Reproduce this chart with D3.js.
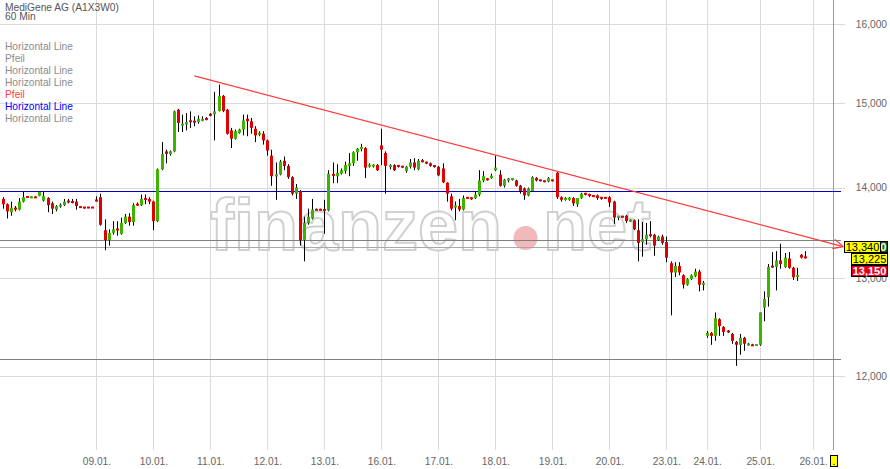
<!DOCTYPE html>
<html><head><meta charset="utf-8">
<script src="https://cdn.jsdelivr.net/npm/d3@7"></script>
<style>
html,body{margin:0;padding:0;background:#fff;}
svg{display:block;font-family:"Liberation Sans",Arial,sans-serif;}
</style></head><body>
<svg id="c" width="890" height="469"></svg>
<script>
// ---------- data ----------
const title = "MediGene AG (A1X3W0)";
const interval = "60 Min";
const legendItems = ["Horizontal Line","Pfeil","Horizontal Line","Horizontal Line","Pfeil","Horizontal Line","Horizontal Line"];
const legendKinds = ["gray","gray","gray","gray","red","blue","gray"];

const dayLabels = ["09.01.","10.01.","11.01.","12.01.","13.01.","16.01.","17.01.","18.01.","19.01.","20.01.","23.01.","24.01.","25.01.","26.01."];
const dayIndex  = [23,37,51,65,79,93,107,121,135,149,163,173,186,199];

const yTicks = [12,13,14,15,16];

const open = [
13.87,13.81,13.72,13.77,13.75,13.84,13.895,13.885,13.89,13.905,
13.85,13.88,13.82,13.75,13.79,13.80,13.845,13.84,13.84,13.78,
13.775,13.775,13.775,13.855,13.89,13.52,13.41,13.49,13.53,13.48,
13.60,13.67,13.61,13.81,13.80,13.875,13.87,13.84,13.62,14.21,
14.42,14.39,14.42,14.92,14.73,14.74,14.785,14.78,14.77,14.785,
14.81,14.86,14.865,14.905,15.09,14.92,14.67,14.57,14.64,14.68,
14.81,14.78,14.69,14.625,14.63,14.55,14.37,14.13,14.15,14.31,
14.25,14.12,13.93,13.96,13.41,13.60,13.65,13.75,13.75,13.75,
13.74,14.15,14.13,14.16,14.19,14.25,14.28,14.41,14.455,14.46,
14.25,14.25,14.26,14.49,14.40,14.24,14.26,14.255,14.245,14.19,
14.24,14.29,14.21,14.31,14.29,14.28,14.25,14.24,14.22,14.055,
13.90,13.78,13.79,13.75,13.885,13.88,13.88,13.92,14.08,14.10,
14.11,14.20,14.15,14.02,14.09,14.095,14.08,14.02,13.99,13.91,
13.96,14.11,14.085,14.075,14.07,14.085,14.17,13.89,13.86,13.86,
13.88,13.81,13.88,13.93,13.92,13.905,13.91,13.885,13.885,13.89,
13.84,13.66,13.675,13.68,13.62,13.63,13.52,13.39,13.42,13.47,
13.47,13.41,13.45,13.39,13.16,13.06,13.13,13.03,12.93,12.99,
13.02,13.07,12.935,12.40,12.43,12.40,12.57,12.49,12.45,12.42,
12.34,12.31,12.38,12.31,12.31,12.305,12.31,12.69,12.80,13.125,
13.12,13.19,13.12,13.21,13.11,13.015,13.25,13.225];
const high = [
13.89,13.82,13.84,13.79,13.88,13.95,13.90,13.90,13.90,13.96,
13.95,13.89,13.84,13.80,13.82,13.87,13.87,13.87,13.87,13.785,
13.78,13.78,13.78,13.90,13.93,13.64,13.53,13.62,13.62,13.66,
13.70,13.71,13.82,13.83,13.92,13.92,13.89,13.85,14.22,14.53,
14.44,14.43,14.91,14.93,14.86,14.88,14.90,14.84,14.85,14.84,
14.83,14.88,15.14,15.23,15.10,14.93,14.70,14.68,14.69,14.86,
14.86,14.82,14.72,14.66,14.66,14.56,14.44,14.29,14.32,14.36,
14.27,14.13,14.04,13.97,13.67,13.76,13.87,13.76,13.76,13.86,
14.20,14.29,14.27,14.22,14.30,14.40,14.42,14.46,14.51,14.47,
14.28,14.27,14.27,14.69,14.42,14.27,14.27,14.26,14.25,14.25,
14.33,14.34,14.33,14.33,14.30,14.29,14.26,14.25,14.28,14.06,
13.93,13.84,13.87,13.91,13.89,13.89,13.95,14.20,14.19,14.11,
14.16,14.37,14.20,14.10,14.11,14.11,14.09,14.03,14.00,14.00,
14.13,14.12,14.09,14.08,14.12,14.09,14.18,13.90,13.89,13.89,
13.89,13.88,13.94,13.94,13.93,13.91,13.92,13.89,13.89,13.90,
13.85,13.68,13.68,13.69,13.64,13.64,13.64,13.61,13.60,13.62,
13.48,13.46,13.47,13.45,13.18,13.17,13.17,13.04,13.00,13.04,
13.10,13.09,12.97,12.45,12.44,12.64,12.58,12.50,12.46,12.43,
12.35,12.42,12.39,12.33,12.32,12.31,12.64,12.86,13.15,13.28,
13.29,13.37,13.27,13.28,13.12,13.11,13.26,13.29];
const low = [
13.76,13.65,13.68,13.73,13.74,13.83,13.88,13.88,13.88,13.90,
13.84,13.72,13.70,13.73,13.77,13.79,13.82,13.82,13.75,13.77,
13.76,13.77,13.77,13.84,13.57,13.30,13.35,13.47,13.46,13.47,
13.59,13.57,13.57,13.79,13.79,13.81,13.81,13.52,13.61,14.20,
14.28,14.37,14.41,14.65,14.65,14.67,14.70,14.72,14.75,14.78,
14.79,14.84,14.55,14.90,14.89,14.62,14.46,14.56,14.63,14.61,
14.60,14.63,14.53,14.60,14.50,14.37,14.02,13.86,14.14,14.20,
14.10,13.91,13.87,13.35,13.18,13.58,13.64,13.74,13.74,13.48,
13.73,14.05,14.05,14.15,14.16,14.13,14.25,14.31,14.42,14.11,
14.23,14.23,14.19,14.26,13.93,14.21,14.19,14.23,14.23,14.17,
14.22,14.20,14.20,14.29,14.27,14.24,14.23,14.13,14.05,13.84,
13.74,13.63,13.73,13.74,13.87,13.86,13.87,13.90,14.06,14.08,
14.10,14.19,14.01,14.00,14.06,14.08,14.01,13.93,13.86,13.90,
13.95,14.07,14.07,14.06,14.06,14.07,13.87,13.84,13.85,13.85,
13.79,13.78,13.87,13.91,13.89,13.90,13.86,13.86,13.87,13.78,
13.59,13.63,13.66,13.60,13.61,13.52,13.18,13.23,13.36,13.44,
13.24,13.40,13.36,13.17,12.61,13.01,13.03,12.89,12.92,12.98,
13.01,12.86,12.87,12.38,12.31,12.35,12.40,12.40,12.43,12.32,
12.10,12.21,12.25,12.30,12.30,12.30,12.30,12.55,12.70,13.11,
12.87,13.10,13.11,13.10,12.98,12.97,13.21,13.21];
const close = [
13.81,13.73,13.77,13.75,13.84,13.89,13.89,13.89,13.885,13.95,
13.90,13.80,13.76,13.79,13.80,13.84,13.835,13.83,13.79,13.775,
13.77,13.77,13.77,13.85,13.58,13.41,13.49,13.53,13.525,13.60,
13.67,13.61,13.80,13.80,13.87,13.865,13.84,13.62,14.21,14.39,
14.39,14.42,14.90,14.76,14.75,14.77,14.775,14.77,14.81,14.81,
14.805,14.855,14.90,15.09,14.905,14.63,14.57,14.66,14.68,14.79,
14.78,14.70,14.61,14.635,14.55,14.43,14.13,14.15,14.30,14.25,
14.12,13.93,14.00,13.41,13.60,13.67,13.75,13.745,13.745,13.74,
14.16,14.14,14.17,14.20,14.26,14.28,14.41,14.45,14.465,14.23,
14.255,14.255,14.20,14.44,14.25,14.255,14.20,14.245,14.235,14.24,
14.29,14.23,14.31,14.30,14.285,14.25,14.245,14.14,14.06,13.93,
13.76,13.79,13.75,13.88,13.88,13.875,13.92,14.08,14.13,14.09,
14.135,14.23,14.02,14.09,14.095,14.10,14.02,13.96,13.91,13.99,
14.12,14.08,14.08,14.07,14.11,14.08,13.89,13.86,13.88,13.885,
13.82,13.88,13.93,13.925,13.91,13.90,13.88,13.88,13.88,13.83,
13.66,13.675,13.665,13.62,13.63,13.53,13.38,13.42,13.47,13.46,
13.35,13.45,13.38,13.22,13.06,13.13,13.06,12.93,12.99,13.03,
13.07,12.93,12.945,12.43,12.40,12.58,12.50,12.44,12.44,12.35,
12.31,12.38,12.32,12.315,12.30,12.31,12.64,12.78,13.12,13.12,
13.19,13.15,13.22,13.11,13.01,13.03,13.22,13.22];

// horizontal lines (price levels) and their kind
const hLineValues = [13.96, 13.41, 13.34, 12.17];
const hLineKinds  = ["blue","dark","light","dark"];
// trend arrow: [candle index, price]
const arrowStart = [47.05, 15.338];
const arrowEnd   = [206.4, 13.34];
// price tags on the right axis
const tagValues = [13.34, 13.34, 13.225, 13.15];
const tagKinds  = ["green","yellowArrow","yellow","red"];

// ---------- styles ----------
const C = {
  grid:"#dadada", border:"#9a9a9a", text:"#666", title:"#555",
  up:"#3cb400", down:"#e00000", wick:"#000",
  legend:{gray:"#8c8c8c", red:"#ff3a3a", blue:"#0000ff"},
  hline:{blue:"#0000c8", dark:"#808080", light:"#a8a8a8"},
  arrow:"#ff3b3b"
};
const FS = 10.2;

const svg = d3.select("#c");
const W = 833.4, H = 450;
const x = d3.scaleLinear().domain([-0.675, 204.0]).range([0, W]);
const y = d3.scaleLog().domain([11.295, 16.321]).range([H, 0]);
const loc = d3.formatLocale({decimal:",", thousands:".", grouping:[3], currency:["","€"]});
const fmt = loc.format(".3f");

// gridlines
const g0 = svg.append("g");
g0.selectAll("line.h").data(yTicks).join("line")
  .attr("x1",0).attr("x2",845)
  .attr("y1",d=>Math.round(y(d))+0.5).attr("y2",d=>Math.round(y(d))+0.5)
  .attr("stroke",C.grid).attr("stroke-width",1);
g0.selectAll("line.v").data(dayIndex).join("line")
  .attr("x1",d=>Math.round(x(d))+0.5).attr("x2",d=>Math.round(x(d))+0.5)
  .attr("y1",0).attr("y2",H)
  .attr("stroke",C.grid).attr("stroke-width",1);

// watermark
const wm = svg.append("g").attr("font-family","'Liberation Sans',Arial,sans-serif")
  .attr("font-size",72).attr("font-weight","bold").attr("fill","#fff").attr("fill-opacity",0.8)
  .attr("stroke","#d0d0d0").attr("stroke-width",2);
wm.append("text").attr("x",210).attr("y",250).text("finanzen");
wm.append("text").attr("x",543).attr("y",250).text("net");
svg.append("circle").attr("cx",525.5).attr("cy",238).attr("r",12)
  .attr("fill","#e88a8a").attr("fill-opacity",0.6);

// right border
svg.append("line").attr("x1",Math.round(W)+0.5).attr("x2",Math.round(W)+0.5)
  .attr("y1",0).attr("y2",H).attr("stroke",C.border);

// horizontal lines
svg.selectAll("line.hl").data(hLineValues).join("line")
  .attr("x1",0).attr("x2",841)
  .attr("y1",d=>Math.round(y(d))+0.5).attr("y2",d=>Math.round(y(d))+0.5)
  .attr("stroke",(d,i)=>C.hline[hLineKinds[i]]).attr("stroke-width",1);

// candles
const idx = d3.range(open.length);
const cg = svg.append("g");
cg.selectAll("line.w").data(idx).join("line")
  .attr("x1",i=>Math.round(x(i))+0.5).attr("x2",i=>Math.round(x(i))+0.5)
  .attr("y1",i=>y(high[i])).attr("y2",i=>y(low[i]))
  .attr("stroke",C.wick).attr("stroke-width",1);
cg.selectAll("rect").data(idx).join("rect")
  .attr("x",i=>Math.round(x(i))-1).attr("width",3)
  .attr("y",i=>{const t=y(Math.max(open[i],close[i])), b=y(Math.min(open[i],close[i]));
     return (b-t<2)?(t+b)/2-1:t;})
  .attr("height",i=>Math.max(2, y(Math.min(open[i],close[i]))-y(Math.max(open[i],close[i]))))
  .attr("fill",i=>close[i]>=open[i]?C.up:C.down);

// trend arrow
const ax1=x(arrowStart[0]), ay1=y(arrowStart[1]), ax2=x(arrowEnd[0]), ay2=y(arrowEnd[1]);
svg.append("line").attr("x1",ax1).attr("y1",ay1).attr("x2",ax2).attr("y2",ay2)
  .attr("stroke",C.arrow).attr("stroke-width",1.2);
const ang=Math.atan2(ay2-ay1, ax2-ax1);
[0.45,-0.45].forEach(a=>{
  svg.append("line").attr("x1",ax2).attr("y1",ay2)
    .attr("x2",ax2-11*Math.cos(ang+a)).attr("y2",ay2-11*Math.sin(ang+a))
    .attr("stroke",C.arrow).attr("stroke-width",1.2);
});

// y axis labels
svg.selectAll("text.yl").data(yTicks).join("text")
  .attr("x",887).attr("y",d=>y(d)+3.8).attr("text-anchor","end")
  .attr("font-size",FS).attr("fill",C.text).text(d=>fmt(d));

// x axis labels
svg.selectAll("text.xl").data(dayLabels).join("text")
  .attr("x",(d,i)=>x(dayIndex[i])+0.5).attr("y",464.5).attr("text-anchor","middle")
  .attr("font-size",FS).attr("fill",C.text).text(d=>d);

// price tags
const tagStyle = {
  green:{fill:"#0b6b0b", text:"#fff", dx:0, bold:true},
  yellowArrow:{fill:"#ffff00", text:"#000", dx:-7, bold:false},
  yellow:{fill:"#ffff00", text:"#000", dx:0, bold:false},
  red:{fill:"#e0001a", text:"#fff", dx:0, bold:true}
};
let lastY=-1e9, lastV=null;
tagValues.forEach((v,i)=>{
  let cy=y(v);
  if (lastV!==null && v!==lastV && cy < lastY+12) cy=lastY+12;
  if (v===lastV) cy=lastY;
  lastY=cy; lastV=v;
  const s=tagStyle[tagKinds[i]];
  const bx=851+s.dx;
  svg.append("rect").attr("x",bx+0.5).attr("y",Math.round(cy-6)+0.5).attr("width",36).attr("height",11)
    .attr("fill",s.fill).attr("stroke","#000").attr("stroke-width",1);
  svg.append("text").attr("x",bx+18.5).attr("y",Math.round(cy-6)+10).attr("text-anchor","middle")
    .attr("font-size",11).attr("font-weight",s.bold?"bold":"normal").attr("fill",s.text).text(fmt(v));
});

// current-time marker at bottom
svg.append("rect").attr("x",830.5).attr("y",455.5).attr("width",7).attr("height",11)
  .attr("fill","#ffff00").attr("stroke","#000");
svg.append("text").attr("x",834).attr("y",465).attr("text-anchor","middle")
  .attr("font-size",FS).attr("fill","#000").text(".");

// title + legend
svg.append("text").attr("x",5).attr("y",10.8).attr("font-size",FS).attr("fill",C.title).text(title);
svg.append("text").attr("x",5).attr("y",20.3).attr("font-size",FS).attr("fill",C.title).text(interval);
svg.selectAll("text.lg").data(legendItems).join("text")
  .attr("x",5).attr("y",(d,i)=>50+12*i).attr("font-size",FS)
  .attr("fill",(d,i)=>C.legend[legendKinds[i]]).text(d=>d);
</script>
</body></html>
